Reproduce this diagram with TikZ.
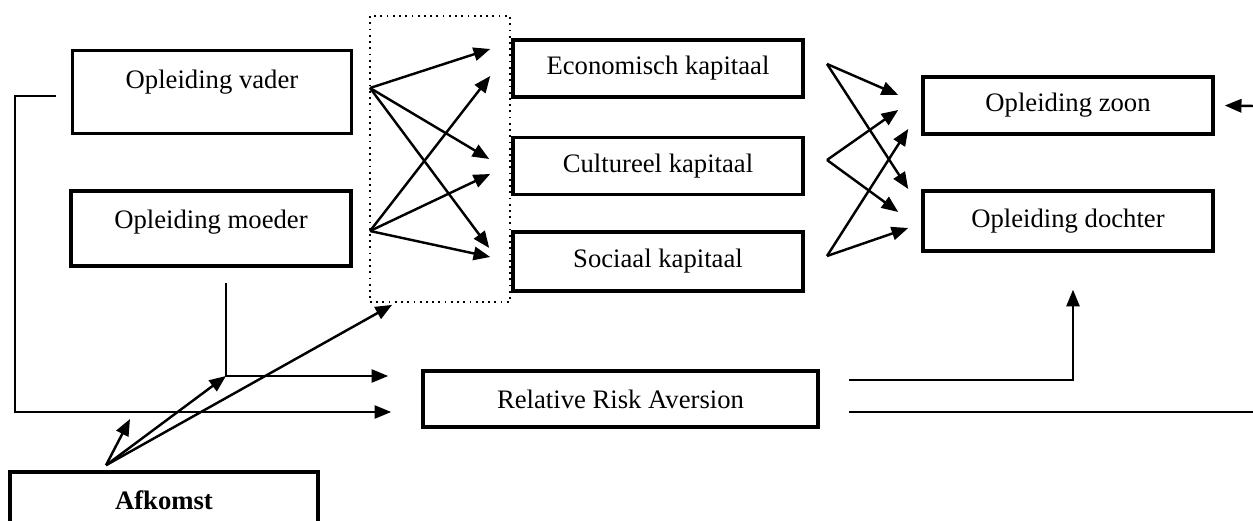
\documentclass[tikz,border=0pt]{standalone}
\usepackage{fontspec}
\setmainfont{Liberation Serif}
\usetikzlibrary{arrows.meta,calc}

\begin{document}
\begin{tikzpicture}[x=0.45pt,y=-0.45pt,
    box/.style={draw,line width=1.6pt,inner sep=0pt,minimum width=130.5pt,minimum height=25.7pt,font=\fontsize{12}{14}\selectfont},
    punt/.style={-{Triangle[length=7.5pt,width=6pt]}},
    pijl/.style={punt,line width=1.1pt},
    lijn/.style={line width=0.8pt}]
  \useasboundingbox (0,0) rectangle (1253,521);

  % ouders en kapitaal
  \draw (212,92) node[box,minimum width=125.6pt,minimum height=37.4pt,text depth=11.6pt] (vader) {Opleiding vader};
  \draw (211,228.5) node[box,minimum width=126pt,minimum height=33.8pt,text depth=8pt] (moeder) {Opleiding moeder};
  \draw (440,159) node[draw,dotted,line width=0.8pt,minimum width=63pt,minimum height=128.7pt] (kader) {};
  \draw (658,68.5) node[box] (econ) {Economisch kapitaal};
  \draw (658,166) node[box] (cult) {Cultureel kapitaal};
  \draw (658,261.5) node[box,minimum height=26.6pt] (soc) {Sociaal kapitaal};
  \draw (1068,105.5) node[box] (zoon) {Opleiding zoon};
  \draw (1068,221) node[box,minimum height=27pt] (dochter) {Opleiding dochter};
  \draw (620.5,399) node[box,minimum width=177.8pt,minimum height=25.2pt] (rra) {Relative Risk Aversion};
  \draw (164,500) node[box,minimum width=138.6pt,minimum height=25.2pt] (afkomst) {\textbf{Afkomst}};

  \coordinate (vuit) at (370,88);
  \coordinate (muit) at (370,231);
  \coordinate (econuit) at (827,64);
  \coordinate (cultuit) at (827,160);
  \coordinate (socuit) at (827,256);
  \coordinate (afk) at ($(afkomst.north)+(-58,-5)$);
  \coordinate (rechts) at (1253,106);
  \coordinate (rand) at (1253,412);

  % naar het kapitaal
  \foreach \doel/\dx/\dy in {econ/-21/-19.5, cult/-22/-7, soc/-22/-13.5}
    \draw[pijl] (vuit) -- ($(\doel.west)+(\dx,\dy)$);
  \foreach \doel/\dx/\dy in {econ/-21/7.5, cult/-21/8, soc/-21/-4.5}
    \draw[pijl] (muit) -- ($(\doel.west)+(\dx,\dy)$);

  % naar de kinderen
  \draw[pijl] (econuit) -- ($(zoon.west)+(-23,-10.5)$);
  \draw[pijl] (econuit) -- ($(dochter.west)+(-13,-32)$);
  \draw[pijl] (cultuit) -- ($(zoon.west)+(-23,4.5)$);
  \draw[pijl] (cultuit) -- ($(dochter.west)+(-23,-9)$);
  \draw[pijl] (socuit) -- ($(zoon.west)+(-13,23.5)$);
  \draw[pijl] (socuit) -- ($(dochter.west)+(-13,7)$);
  \draw[pijl] (rechts) -- ($(zoon.east)+(10,0)$);

  % risico-aversie
  \draw[lijn,punt] ($(vader.west)+(-15,4)$) -| (15,412) -- ($(rra.west)+(-30,13)$);
  \draw[lijn,punt] ($(moeder.south)+(15,15)$) -- (226,376) coordinate (knik) -- ($(rra.west)+(-33,-23)$);
  \draw[lijn,punt] ($(rra.east)+(29,-19)$) -| ($(dochter.south)+(5,37)$);
  \draw[lijn] ($(rra.east)+(29,13)$) -- (rand);

  % afkomst
  \draw[pijl] (afk) -- (130,419);
  \draw[pijl] (afk) -- (knik);
  \draw[pijl] (afk) -- ($(kader.south west)+(23,2)$);

\end{tikzpicture}
\end{document}
